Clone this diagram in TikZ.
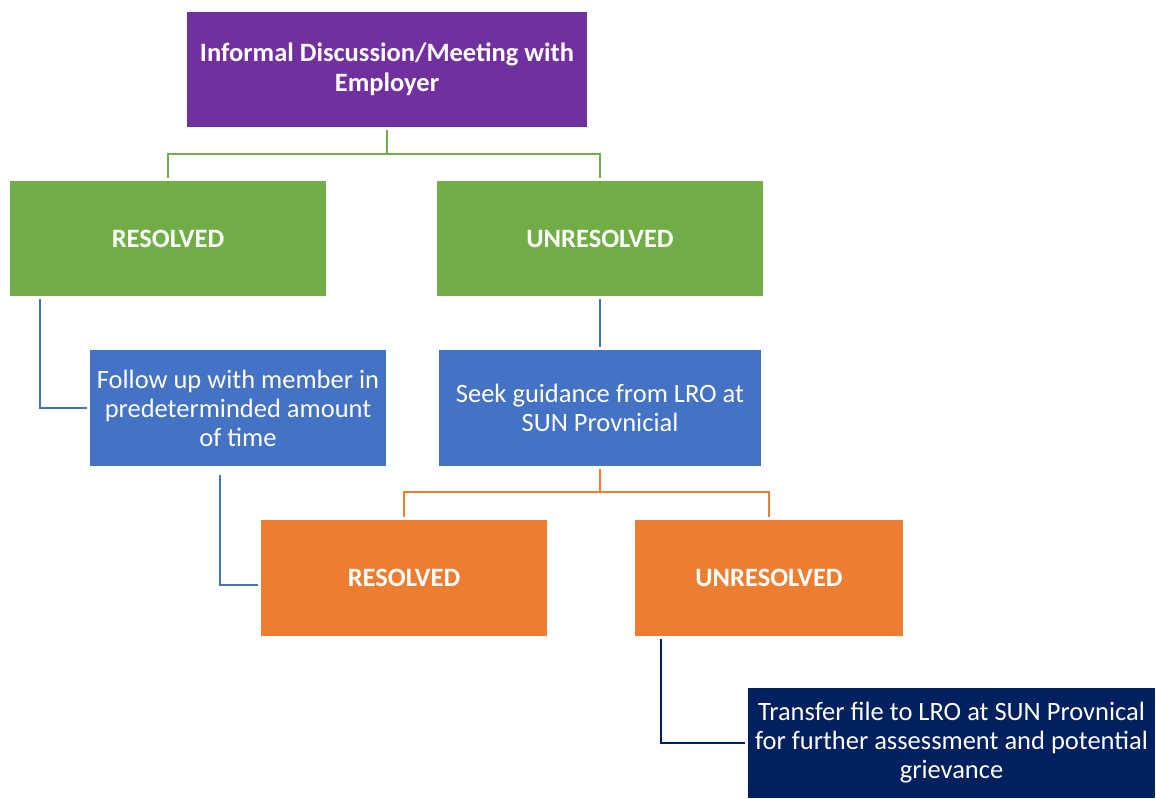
\documentclass[tikz,border=0pt]{standalone}
\usepackage{fontspec}
\setmainfont{Carlito}
\usetikzlibrary{positioning}
\definecolor{meetcol}{HTML}{7030A0}
\definecolor{greencol}{HTML}{70AD47}
\definecolor{bluecol}{HTML}{4472C4}
\definecolor{orangecol}{HTML}{ED7D31}
\definecolor{navycol}{HTML}{002060}
\begin{document}
\begin{tikzpicture}[x=1pt,y=-1pt]
    \tikzstyle{box}=[rectangle, text=white, align=center, inner sep=0pt]
    \tikzstyle{head}=[box, font=\fontsize{26.5}{30}\selectfont\bfseries]
    \tikzstyle{body}=[box, font=\fontsize{26.5}{29}\selectfont]
    \tikzstyle{connect}=[line width=2.2pt, shorten <=3pt, shorten >=3pt]
    \useasboundingbox (0,0) rectangle (1156,798);

      \node[head, fill=meetcol, minimum width=400pt, minimum height=115pt] (meet) at (387,69.5) {Informal Discussion/Meeting with\\Employer};

      \node[head, fill=greencol, minimum width=316pt, minimum height=115pt] (gres) at (168,238.5) {RESOLVED};
      \node[head, fill=greencol, minimum width=326pt, minimum height=115pt] (gunres) at (600,238.5) {UNRESOLVED};

      \node[body, fill=bluecol, minimum width=296pt, minimum height=116pt] (follow) at (238,408) {Follow up with member in\\predeterminded amount\\of time};
      \node[body, fill=bluecol, minimum width=322pt, minimum height=116pt] (seek) at (600,408) {Seek guidance from LRO at\\SUN Provnicial};

      \node[head, fill=orangecol, minimum width=286pt, minimum height=116pt] (ores) at (404,578) {RESOLVED};
      \node[head, fill=orangecol, minimum width=268pt, minimum height=116pt] (ounres) at (769,578) {UNRESOLVED};

      \node[body, fill=navycol, minimum width=407pt, minimum height=110pt] (transfer) at (951.5,743) {Transfer file to LRO at SUN Provnical\\for further assessment and potential\\grievance};

      \draw[connect, greencol] (meet.south) -- ++(0,27) -| (gres.north);
      \draw[connect, greencol] (meet.south) -- ++(0,27) -| (gunres.north);
      \draw[connect, bluecol] ([xshift=30pt]gres.south west) |- (follow.west);
      \draw[connect, bluecol] (gunres.south) -- (seek.north);
      \draw[connect, bluecol, shorten <=9pt] ([xshift=130pt]follow.south west) |- ([yshift=-7pt]ores.west);
      \draw[connect, orangecol] (seek.south) -- ++(0,26) -| (ores.north);
      \draw[connect, orangecol] (seek.south) -- ++(0,26) -| (ounres.north);
      \draw[connect, navycol] ([xshift=26pt]ounres.south west) |- (transfer.west);
\end{tikzpicture}
\end{document}
